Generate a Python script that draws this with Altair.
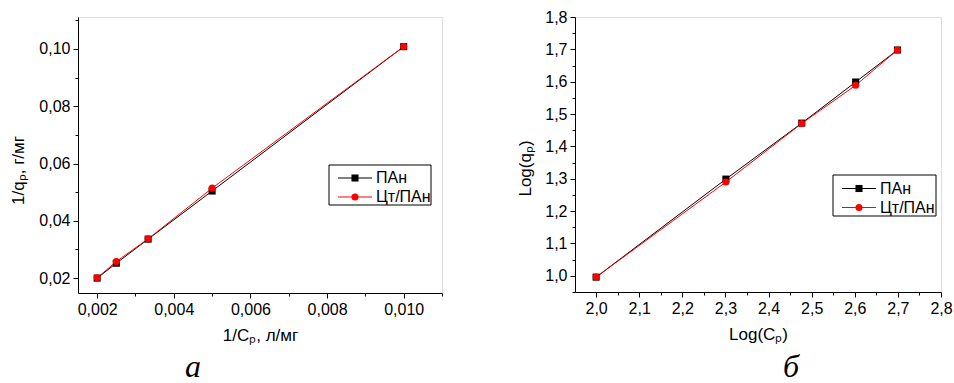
import altair as alt
import pandas as pd

# Series names and colours shared by both panels
series_names = ["ПАн", "Цт/ПАн"]
series_colors = ["#000000", "#ff0000"]
marker_shapes = ["square", "circle"]

# Panel "а": Langmuir coordinates 1/Cp vs 1/qp
inv_c = [0.002, 0.0025, 0.00333, 0.005, 0.010]
inv_q_pan = [0.0200, 0.0252, 0.0336, 0.0504, 0.1008]
inv_q_ct = [0.0201, 0.0258, 0.0337, 0.0514, 0.1008]

# Panel "б": Freundlich coordinates Log(Cp) vs Log(qp)
log_c = [2.0, 2.301, 2.477, 2.602, 2.699]
log_q_pan = [0.996, 1.299, 1.472, 1.599, 1.698]
log_q_ct = [0.996, 1.290, 1.471, 1.589, 1.698]

# Axis tick positions (major ticks carry labels, the rest are minor)
a_x_ticks = [0.002, 0.003, 0.004, 0.005, 0.006, 0.007, 0.008, 0.009, 0.010, 0.011]
a_y_ticks = [0.02, 0.03, 0.04, 0.05, 0.06, 0.07, 0.08, 0.09, 0.10, 0.11]
b_x_ticks = [2.0, 2.05, 2.1, 2.15, 2.2, 2.25, 2.3, 2.35, 2.4, 2.45, 2.5,
             2.55, 2.6, 2.65, 2.7, 2.75, 2.8]
b_y_ticks = [0.95, 1.0, 1.05, 1.1, 1.15, 1.2, 1.25, 1.3, 1.35, 1.4, 1.45,
             1.5, 1.55, 1.6, 1.65, 1.7, 1.75, 1.8]

FONT = "Liberation Sans"


def make_frame(xs, ys_a, ys_b):
    rows = []
    for name, ys in zip(series_names, [ys_a, ys_b]):
        for x, y in zip(xs, ys):
            rows.append({"x": x, "y": y, "series": name})
    return pd.DataFrame(rows)


def make_axis(values, step, fmt, title, title_padding, label_padding, title_y=None):
    major = f"abs(datum.value / {step} - round(datum.value / {step})) < 1e-6"
    extra = {} if title_y is None else {"titleY": title_y}
    return alt.Axis(
        values=values,
        title=title,
        labelExpr=f"{major} ? replace(format(datum.value, '{fmt}'), '.', ',') : ''",
        tickSize={"condition": {"test": major, "value": 5}, "value": 3},
        tickColor="black",
        domainColor="black",
        labelColor="black",
        titleColor="black",
        labelFont=FONT,
        labelFontSize=16,
        titleFont=FONT,
        titleFontSize=17,
        titleFontWeight="normal",
        labelPadding=label_padding,
        titlePadding=title_padding,
        grid=False,
        labelOverlap=False,
        labelFlush=False,
        **extra,
    )


def legend_layers(box, rows_y, line_x, label_x):
    """Framed key: a line segment with the marker on it, then the series name."""
    one = pd.DataFrame({"k": [0]})
    layers = [
        alt.Chart(one).mark_rect(fill="white", stroke="black", strokeWidth=1).encode(
            x=alt.value(box[0]), x2=alt.value(box[1]),
            y=alt.value(box[2]), y2=alt.value(box[3]),
        )
    ]
    for name, color, shape, ry in zip(series_names, series_colors, marker_shapes, rows_y):
        row = pd.DataFrame({"series": [name]})
        layers.append(
            alt.Chart(row).mark_rule(color=color, strokeWidth=1).encode(
                x=alt.value(line_x[0]), x2=alt.value(line_x[1]), y=alt.value(ry)
            )
        )
        layers.append(
            alt.Chart(row).mark_point(filled=True, shape=shape, size=50, color=color, opacity=1).encode(
                x=alt.value((line_x[0] + line_x[1]) / 2), y=alt.value(ry)
            )
        )
        layers.append(
            alt.Chart(row).mark_text(
                align="left", baseline="middle", font=FONT, fontSize=16, color="black"
            ).encode(x=alt.value(label_x), y=alt.value(ry), text="series:N")
        )
    return layers


def panel(df, xdom, ydom, xaxis, yaxis, width, height, key, caption, caption_xy):
    color_scale = alt.Scale(domain=series_names, range=series_colors)
    x = alt.X("x:Q", scale=alt.Scale(domain=xdom, nice=False, zero=False), axis=xaxis)
    y = alt.Y("y:Q", scale=alt.Scale(domain=ydom, nice=False, zero=False), axis=yaxis)

    base = alt.Chart(df)
    lines = base.mark_line(strokeWidth=1).encode(
        x=x, y=y, color=alt.Color("series:N", scale=color_scale, legend=None),
        order="x:Q",
    )
    points = base.mark_point(filled=True, size=50, opacity=1).encode(
        x=x, y=y,
        color=alt.Color("series:N", scale=color_scale, legend=None),
        shape=alt.Shape("series:N", scale=alt.Scale(domain=series_names, range=marker_shapes), legend=None),
    )

    cap = alt.Chart(pd.DataFrame({"t": [caption]})).mark_text(
        font="Liberation Serif", fontStyle="italic", fontSize=32, color="black",
        baseline="bottom", align="center",
    ).encode(x=alt.value(caption_xy[0]), y=alt.value(caption_xy[1]), text="t:N")

    return alt.layer(lines, points, *legend_layers(*key), cap).properties(
        width=width, height=height
    )


df_a = make_frame(inv_c, inv_q_pan, inv_q_ct)
df_b = make_frame(log_c, log_q_pan, log_q_ct)

left = panel(
    df_a, [0.0015, 0.011], [0.0148, 0.11115],
    make_axis(a_x_ticks, 0.002, ".3f", "1/Cₚ, л/мг", 10, 3),
    make_axis(a_y_ticks, 0.02, ".2f", "1/qₚ, г/мг", 11, 3, title_y=153),
    364, 276,
    ((251, 353, 148, 188), (161, 180), (260, 294), 298),
    "а", (115, 367),
)
right = panel(
    df_b, [1.951, 2.8], [0.95, 1.8],
    make_axis(b_x_ticks, 0.1, ".1f", "Log(Cₚ)", 10, 3),
    make_axis(b_y_ticks, 0.1, ".1f", "Log(qₚ)", 10, 3, title_y=151),
    366, 275,
    ((258, 361, 158, 199), (171.5, 190.5), (267, 301), 305),
    "б", (216, 367),
)

chart = alt.hconcat(left, right, spacing=73).properties(
    padding={"left": 9, "top": 8, "right": 0, "bottom": 0}
).configure_view(stroke=None).configure(background="white")

chart.save("out.html", embed_options={"renderer": "svg", "actions": False})
